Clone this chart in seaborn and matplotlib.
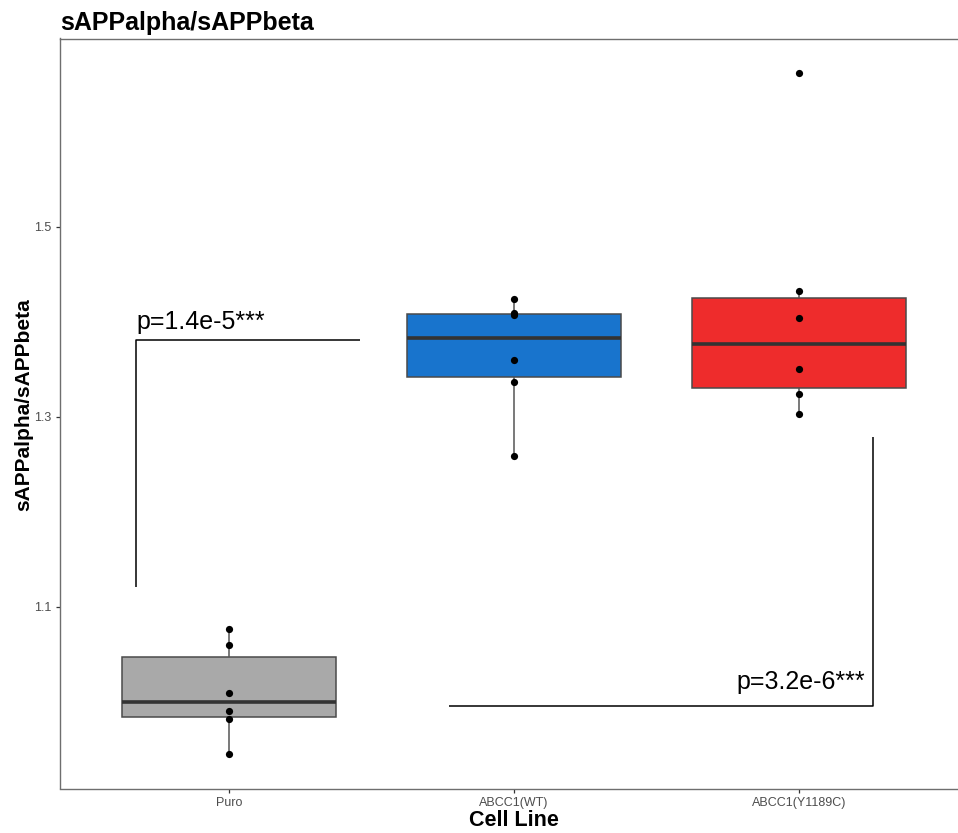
import matplotlib
matplotlib.use("Agg")
import matplotlib.pyplot as plt
import seaborn as sns
import pandas as pd

# ---- data ----
categories = ["Puro", "ABCC1(WT)", "ABCC1(Y1189C)"]
puro_vals = [1.0769, 1.0604, 1.0097, 0.9908, 0.9824, 0.9449]
wt_vals = [1.4235, 1.4092, 1.4071, 1.3594, 1.3363, 1.2586]
mut_vals = [1.6622, 1.4326, 1.4039, 1.3504, 1.3237, 1.3031]
box_colors = ["#A9A9A9", "#1874CD", "#EE2C2C"]
y_ticks = [1.1, 1.3, 1.5]
y_tick_labels = ["1.1", "1.3", "1.5"]

# significance annotations (group-span brackets)
p_labels = ["p=1.4e-5***", "p=3.2e-6***"]
bracket1_x = [-0.326, -0.326, 0.46]
bracket1_y = [1.1208, 1.3808, 1.3808]
bracket2_x = [0.772, 2.26, 2.26]
bracket2_y = [0.9955, 0.9955, 1.2793]
label1_xy = (-0.324, 1.3927)
label2_xy = (2.232, 1.0137)

df = pd.DataFrame({
    "Cell Line": [categories[0]] * len(puro_vals) + [categories[1]] * len(wt_vals)
                 + [categories[2]] * len(mut_vals),
    "ratio": puro_vals + wt_vals + mut_vals,
})

sns.set_style("white")
plt.rcParams["font.family"] = ["Liberation Sans", "DejaVu Sans"]

W, H = 958, 833
fig = plt.figure(figsize=(W / 100, H / 100), dpi=100)
ax_left, ax_right, ax_top, ax_bottom = 60, 968, 38.5, 788.5
ax = fig.add_axes([ax_left / W, 1 - ax_bottom / H, (ax_right - ax_left) / W,
                   (ax_bottom - ax_top) / H])

sns.boxplot(data=df, x="Cell Line", y="ratio", hue="Cell Line", order=categories,
            hue_order=categories, palette=box_colors, width=0.75, showfliers=False,
            whis=1.5, linecolor="#4a4a4a", linewidth=1.1, legend=False, ax=ax,
            medianprops=dict(color="#333333", linewidth=2.6),
            whiskerprops=dict(color="#555555", linewidth=1.1),
            capprops=dict(linewidth=0), saturation=1)
sns.stripplot(data=df, x="Cell Line", y="ratio", order=categories, jitter=False,
              color="black", size=5.2, ax=ax, zorder=5)

ax.plot(bracket1_x, bracket1_y, color="black", lw=1.1, solid_capstyle="butt")
ax.plot(bracket2_x, bracket2_y, color="black", lw=1.1, solid_capstyle="butt")
ax.text(label1_xy[0], label1_xy[1], p_labels[0], ha="left", va="baseline",
        fontsize=18, color="black")
ax.text(label2_xy[0], label2_xy[1], p_labels[1], ha="right", va="baseline",
        fontsize=18, color="black")

ax.set_xlim(-0.593, 2.593)
ax.set_ylim(0.9090, 1.6981)
ax.set_yticks(y_ticks)
ax.set_yticklabels(y_tick_labels)

for s in ["top", "bottom", "left", "right"]:
    ax.spines[s].set_visible(True)
    ax.spines[s].set_color("#6e6e6e")
    ax.spines[s].set_linewidth(1.0)

ax.tick_params(axis="both", which="both", length=3, width=0.9, color="#333333",
               labelcolor="#4D4D4D", labelsize=9, pad=3, left=True, bottom=True)

ax.set_xlabel("Cell Line", fontsize=15.5, fontweight="bold", color="black")
ax.set_ylabel("sAPPalpha/sAPPbeta", fontsize=15, fontweight="bold", color="black")
ax.xaxis.set_label_coords(0.5, -0.028)
ax.yaxis.set_label_coords(-0.0295, 0.512)
ax.set_title("sAPPalpha/sAPPbeta", loc="left", fontsize=18, fontweight="bold",
             color="black", pad=6)
ax.title.set_position((-0.001, 1.0))

fig.savefig("out.png", dpi=100)
